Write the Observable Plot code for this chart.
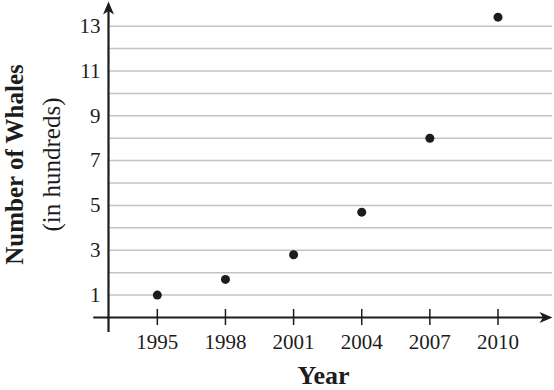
<!DOCTYPE html>
<html>
<head>
<meta charset="utf-8">
<script src="https://cdn.jsdelivr.net/npm/d3@7"></script>
<script src="https://cdn.jsdelivr.net/npm/@observablehq/plot@0.6"></script>
<style>
  html, body { margin: 0; padding: 0; background: #fff; }
</style>
</head>
<body>
<div id="chart"></div>
<script>
const years = [1995, 1998, 2001, 2004, 2007, 2010];
const whales = [1.0, 1.7, 2.8, 4.7, 8.0, 13.4];
const yTickLabels = [1, 3, 5, 7, 9, 11, 13];
const gridLevels = [1, 2, 3, 4, 5, 6, 7, 8, 9, 10, 11, 12, 13];
const xTitle = "Year";
const yTitle1 = "Number of Whales";
const yTitle2 = "(in hundreds)";

const data = years.map((y, i) => ({year: y, count: whales[i]}));

const xMin = 1992.85, xMax = 2012.4;
const yMax = 14.1;
const ink = "#1c1c1c";
const serif = "'Liberation Serif', 'Times New Roman', serif";

const arrowHead = {
  draw(ctx) {
    ctx.moveTo(0, 0);
    ctx.lineTo(5.5, 13);
    ctx.lineTo(0, 9.5);
    ctx.lineTo(-5.5, 13);
    ctx.closePath();
  }
};

const chart = Plot.plot({
  width: 554,
  height: 390,
  marginLeft: 108,
  marginRight: 2,
  marginTop: 1,
  marginBottom: 73,
  style: {fontFamily: serif, fontSize: "21px", color: ink, background: "#fff"},
  x: {domain: [xMin, xMax], axis: null},
  y: {domain: [0, yMax], axis: null},
  marks: [
    Plot.gridY(gridLevels, {stroke: "#c4c4c4", strokeOpacity: 1, strokeWidth: 1.5}),
    Plot.axisY(yTickLabels, {tickSize: 0, tickPadding: 8, fontSize: 21, fill: ink, label: null}),
    Plot.axisX(years, {tickSize: 0, tickPadding: 17, fontSize: 21, fill: ink, label: null, tickFormat: d => String(d)}),
    Plot.ruleX(years, {x: d => d, y1: -0.36, y2: 0.36, stroke: ink, strokeWidth: 1.5}),
    Plot.ruleY([0], {x1: 1992.2, x2: xMax - 0.3, stroke: ink, strokeWidth: 2.2}),
    Plot.ruleX([xMin], {y1: -0.67, y2: yMax - 0.3, stroke: ink, strokeWidth: 2.2}),
    Plot.dot([0], {x: xMin, y: yMax, symbol: arrowHead, fill: ink, r: 1}),
    Plot.dot([0], {x: xMax, y: 0, symbol: arrowHead, fill: ink, r: 1, rotate: 90}),
    Plot.dot(data, {x: "year", y: "count", r: 4.5, fill: ink}),
    Plot.text([yTitle1], {text: d => d, frameAnchor: "left", textAnchor: "middle", rotate: -90, dx: -94, dy: 5,
      fontWeight: "bold", fontSize: 25, fill: ink, fontFamily: serif}),
    Plot.text([yTitle2], {text: d => d, frameAnchor: "left", textAnchor: "middle", rotate: -90, dx: -57, dy: 5,
      fontSize: 25, fill: ink, fontFamily: serif}),
    Plot.text([xTitle], {text: d => d, frameAnchor: "bottom", textAnchor: "middle", lineAnchor: "bottom", dx: -7, dy: 66,
      fontWeight: "bold", fontSize: 26, fill: ink, fontFamily: serif})
  ]
});
document.getElementById("chart").appendChild(chart);
</script>
</body>
</html>
